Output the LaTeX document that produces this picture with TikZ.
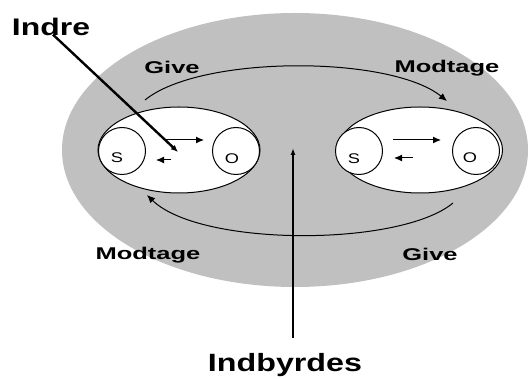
\documentclass[tikz,border=0pt]{standalone}
\usepackage{fontspec}
\setmainfont{Liberation Sans}
\usetikzlibrary{arrows.meta}
\usetikzlibrary{positioning, shapes.geometric}
\definecolor{shade}{HTML}{C0C0C0}
\newcommand{\wide}[2]{\scalebox{#1}[1]{#2}}

\begin{document}
\begin{tikzpicture}[x=1pt, y=-1pt, line width=1pt,
  arr/.style={-{Latex[length=8pt,width=7pt]}},
  part/.style={circle, draw, fill=white, minimum size=47pt, inner sep=0pt},
  letter/.style={font=\fontsize{14}{14}\selectfont},
  word/.style={font=\fontsize{17}{17}\selectfont\bfseries}]
  \useasboundingbox (0,0) rectangle (531,379);

	% --- Groups ---
	\node[ellipse, fill=shade, minimum width=466pt, minimum height=274pt, inner sep=0pt] (outer) at (295,150) {};

	% Left pair
	\node[ellipse, draw, fill=white, minimum width=162pt, minimum height=86pt, inner sep=0pt] (left) at (179,150) {};
	\node[part, label={[xshift=-5pt, yshift=-7pt, letter]center:\wide{1.3}{S}}] (s1) at (122,151) {};
	\node[part, label={[xshift=-4pt, yshift=-8pt, letter]center:\wide{1.3}{O}}] (o1) at (236,151) {};
	\draw[arr] ([xshift=18pt, yshift=11pt]s1.east) -- ([xshift=-8pt, yshift=11pt]o1.west);
	\draw[arr] ([xshift=25pt, yshift=-9pt]s1.east) -- ([xshift=10pt, yshift=-9pt]s1.east);

	% Right pair
	\node[ellipse, draw, fill=white, minimum width=165pt, minimum height=86pt, inner sep=0pt] (right) at (420,150) {};
	\node[part, label={[xshift=-5pt, yshift=-8pt, letter]center:\wide{1.3}{S}}] (s2) at (359,151) {};
	\node[part, label={[xshift=-6pt, yshift=-7pt, letter]center:\wide{1.3}{O}}] (o2) at (476,151) {};
	\draw[arr] ([xshift=10pt, yshift=11pt]s2.east) -- ([xshift=-11pt, yshift=11pt]o2.west);
	\draw[arr] ([xshift=30pt, yshift=-7pt]s2.east) -- ([xshift=11pt, yshift=-7pt]s2.east);

	% --- Exchange between the pairs ---
	\coordinate (give1) at (145,100);
	\coordinate (take1) at (447,101);
	\coordinate (give2) at (453,203);
	\coordinate (take2) at (147,195);
	\draw[arr] (give1) .. controls (200,55) and (390,55) .. (take1);
	\draw[arr] (give2) .. controls (400,247) and (200,247) .. (take2);

	\node[word] (givetop) at (172,67) {\wide{1.5}{Give}};
	\node[word] (taketop) at (447,68) {\wide{1.5}{Modtage}};
	\node[word] (takebot) at (148,255) {\wide{1.5}{Modtage}};
	\node[word] (givebot) at (430,254) {\wide{1.5}{Give}};

	% --- Callouts ---
	\node[font=\fontsize{24}{24}\selectfont\bfseries] (indre) at (51,27) {\wide{1.33}{Indre}};
	\node[font=\fontsize{25}{25}\selectfont\bfseries] (indbyrdes) at (285,365) {\wide{1.29}{Indbyrdes}};
	\coordinate (inside) at (178,152);
	\coordinate (between) at (293,148);
	\draw[line width=2.4pt, -{Latex[length=7pt,width=6pt]}] ([xshift=2pt, yshift=5pt]indre.south) -- (inside);
	\draw[line width=1.4pt, -{Latex[length=7pt,width=5pt]}] (indbyrdes.north -| between) ++(0,-12) -- (between);

\end{tikzpicture}
\end{document}
